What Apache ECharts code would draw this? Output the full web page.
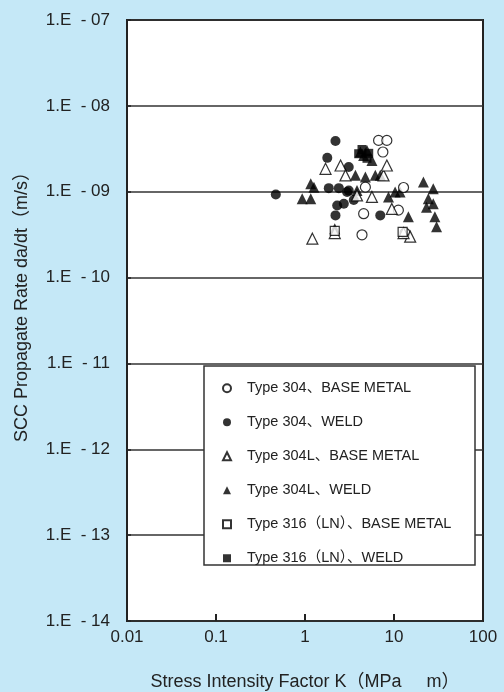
<!DOCTYPE html>
<html>
<head>
<meta charset="utf-8">
<script src="https://cdn.jsdelivr.net/npm/echarts@6/dist/echarts.min.js"></script>
<style>
  html, body { margin: 0; padding: 0; background: #c5e8f7; }
  #chart { width: 504px; height: 692px; }
</style>
</head>
<body>
<div id="chart"></div>
<script>
// Stress intensity factor K (MPa√m) vs. SCC crack growth rate da/dt (m/s)
const xTickLabels = ['0.01', '0.1', '1', '10', '100'];
const yTickLabels = ['1.E  - 14', '1.E  - 13', '1.E  - 12', '1.E  - 11', '1.E  - 10', '1.E  - 09', '1.E  - 08', '1.E  - 07'];

const seriesNames = [
  'Type 304、BASE METAL',
  'Type 304、WELD',
  'Type 304L、BASE METAL',
  'Type 304L、WELD',
  'Type 316（LN）、BASE METAL',
  'Type 316（LN）、WELD'
];

// [K, da/dt]
const type304Base = [
  [6.71, 3.96e-9], [8.31, 3.96e-9], [7.50, 2.90e-9], [4.77, 1.13e-9], [12.8, 1.12e-9],
  [11.2, 0.61e-9], [4.56, 0.555e-9], [4.37, 0.315e-9], [13.3, 0.33e-9]
];
const type304Weld = [
  [0.47, 0.93e-9], [2.20, 3.90e-9], [1.78, 2.48e-9], [3.10, 1.94e-9], [1.85, 1.10e-9],
  [2.40, 1.10e-9], [2.97, 0.99e-9], [3.10, 1.03e-9], [2.73, 0.725e-9], [3.53, 0.80e-9],
  [2.30, 0.69e-9], [2.20, 0.53e-9], [7.01, 0.53e-9]
];
const type304LBase = [
  [1.21, 0.284e-9], [1.70, 1.85e-9], [2.51, 2.02e-9], [2.85, 1.55e-9], [2.16, 0.33e-9],
  [3.84, 0.905e-9], [5.65, 0.87e-9], [7.63, 1.55e-9], [8.31, 2.02e-9], [9.45, 0.63e-9],
  [15.2, 0.30e-9], [12.8, 0.33e-9]
];
const type304LWeld = [
  [0.93, 0.83e-9], [1.16, 0.83e-9], [1.16, 1.24e-9], [1.26, 1.13e-9], [2.16, 0.37e-9],
  [3.69, 1.55e-9], [4.77, 1.48e-9], [4.97, 3.02e-9], [5.65, 2.31e-9], [6.17, 1.55e-9],
  [7.01, 1.55e-9], [3.84, 1.035e-9], [8.68, 0.87e-9], [10.3, 0.99e-9], [11.7, 0.99e-9],
  [14.5, 0.51e-9], [21.4, 1.30e-9], [24.3, 0.83e-9], [23.2, 0.66e-9], [27.6, 1.08e-9],
  [27.6, 0.725e-9], [28.8, 0.51e-9], [30.1, 0.39e-9], [4.19, 2.90e-9], [4.56, 2.65e-9]
];
const type316LNBase = [[2.16, 0.35e-9], [12.5, 0.34e-9]];
const type316LNWeld = [[4.01, 2.77e-9], [4.37, 3.10e-9], [4.97, 2.45e-9], [5.20, 2.80e-9]];

const FONT = '"Liberation Sans", Arial, "Noto Sans CJK JP", sans-serif';
const INK = '#222';

const openStyle = { color: '#fff', borderColor: '#000', borderWidth: 1.2 };
const filledStyle = { color: '#000', borderColor: '#000', borderWidth: 0 };

function scatter(name, data, symbol, size, style, z) {
  return { name, type: 'scatter', data, symbol, symbolSize: size, itemStyle: style, z,
           emphasis: { disabled: true } };
}

const chart = echarts.init(document.getElementById('chart'), null, { renderer: 'canvas' });

chart.setOption({
  backgroundColor: '#c5e8f7',
  animation: false,
  grid: {
    left: 127, right: 21, top: 20, bottom: 71,
    outerBoundsMode: 'none', containLabel: false,
    show: true, backgroundColor: '#fff', borderColor: INK, borderWidth: 2
  },
  xAxis: {
    type: 'log', logBase: 10, min: 0.01, max: 100,
    name: 'Stress Intensity Factor K（MPa     m）',
    nameLocation: 'middle', nameGap: 52,
    nameTextStyle: { fontFamily: FONT, fontSize: 18, color: INK },
    axisLine: { show: false },
    axisTick: { show: true, inside: true, length: 7, lineStyle: { color: INK, width: 2 } },
    minorTick: { show: false },
    splitLine: { show: false },
    axisLabel: {
      fontFamily: FONT, fontSize: 17, color: INK, margin: 8,
      formatter: v => xTickLabels[Math.round(Math.log10(v)) + 2]
    }
  },
  yAxis: {
    type: 'log', logBase: 10, min: 1e-14, max: 1e-7,
    name: 'SCC Propagate Rate da/dt（m/s）',
    nameLocation: 'middle', nameGap: 96, nameRotate: 90,
    nameTextStyle: { fontFamily: FONT, fontSize: 18, color: INK, padding: [0, 0, 0, 36] },
    axisLine: { show: false },
    axisTick: { show: true, inside: true, length: 4, lineStyle: { color: INK, width: 1.5 } },
    splitLine: { show: true, lineStyle: { color: '#333', width: 1.5 } },
    axisLabel: {
      fontFamily: FONT, fontSize: 17, color: INK, margin: 17,
      formatter: v => yTickLabels[Math.round(Math.log10(v)) + 14]
    }
  },
  graphic: [{
    type: 'rect', z: 10,
    shape: { x: 204, y: 366, width: 271, height: 199 },
    style: { fill: '#fff', stroke: '#333', lineWidth: 1.5 }
  }],
  legend: {
    z: 20,
    orient: 'vertical', left: 217, top: 376,
    itemWidth: 8, itemHeight: 8, itemGap: 19.5,
    data: seriesNames,
    textStyle: { fontFamily: FONT, fontSize: 14.5, color: INK, padding: [0, 0, 0, 11] },
    selectedMode: false
  },
  series: [
    scatter(seriesNames[1], type304Weld, 'circle', 10, filledStyle, 2),
    scatter(seriesNames[3], type304LWeld, 'triangle', 11, filledStyle, 2),
    scatter(seriesNames[5], type316LNWeld, 'rect', 9, filledStyle, 2),
    scatter(seriesNames[0], type304Base, 'circle', 10, openStyle, 3),
    scatter(seriesNames[2], type304LBase, 'triangle', 11, openStyle, 3),
    scatter(seriesNames[4], type316LNBase, 'rect', 9, openStyle, 3)
  ]
});
</script>
</body>
</html>
